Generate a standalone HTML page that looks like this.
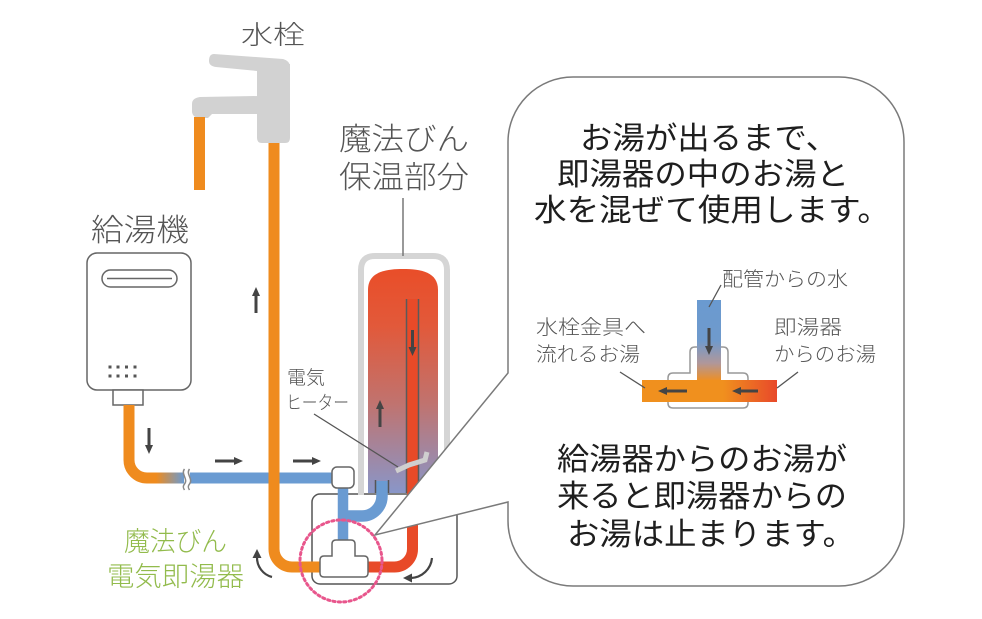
<!DOCTYPE html>
<html><head><meta charset="utf-8"><style>
html,body{margin:0;padding:0;background:#fff;}
svg{display:block;}
text{font-family:"Liberation Sans","Noto Sans CJK JP",sans-serif;font-weight:300;}
text.main{font-weight:400;}
</style></head><body>
<svg width="982" height="619" viewBox="0 0 982 619" xmlns="http://www.w3.org/2000/svg">
<defs>
 <linearGradient id="tank" x1="0" y1="270" x2="0" y2="493" gradientUnits="userSpaceOnUse">
  <stop offset="0" stop-color="#e94e29"/>
  <stop offset="0.25" stop-color="#e2593a"/>
  <stop offset="0.6" stop-color="#c0736f"/>
  <stop offset="1" stop-color="#8996c8"/>
 </linearGradient>
 <linearGradient id="hp" x1="156" y1="0" x2="184" y2="0" gradientUnits="userSpaceOnUse">
  <stop offset="0" stop-color="#ef8b1e"/>
  <stop offset="1" stop-color="#6a9bd2"/>
 </linearGradient>
 <linearGradient id="vb" x1="0" y1="300" x2="0" y2="381" gradientUnits="userSpaceOnUse">
  <stop offset="0" stop-color="#6a9ad0"/>
  <stop offset="0.5" stop-color="#6f9acc"/>
  <stop offset="0.78" stop-color="#b0979a"/>
  <stop offset="1" stop-color="#ef8f22"/>
 </linearGradient>
 <linearGradient id="hb" x1="642" y1="0" x2="777" y2="0" gradientUnits="userSpaceOnUse">
  <stop offset="0" stop-color="#f0901e"/>
  <stop offset="0.6" stop-color="#f0901e"/>
  <stop offset="1" stop-color="#e8492a"/>
 </linearGradient>
</defs>
<rect width="982" height="619" fill="#fff"/>

<!-- faucet -->
<path d="M214,54 L283,59 Q290,61 290,67 L290,74 L257,74 L257,71 L216,67 Q209,66 209,61 Q209,54 214,54 Z" fill="#d2d2d2"/>
<path d="M257,64 L290,64 L290,138 Q290,143 285,143 L262,143 Q257,143 257,138 Z" fill="#d2d2d2"/>
<path d="M258,96 L200,97 Q192,98 192,104 L192,112 Q193,118 200,118 L208,118 L212,114 L258,114 Z" fill="#d2d2d2"/>
<rect x="194" y="117" width="11" height="73" fill="#ef8b1e"/>

<!-- water heater unit -->
<rect x="87" y="253" width="104" height="137" rx="10" fill="#fff" stroke="#666" stroke-width="1.5"/>
<rect x="102" y="270" width="75" height="17" rx="8.5" fill="#fff" stroke="#666" stroke-width="1.5"/>
<line x1="107" y1="278.5" x2="172" y2="278.5" stroke="#666" stroke-width="1.5"/>
<g fill="#555">
 <rect x="108.5" y="365.5" width="3" height="3"/><rect x="116.5" y="365.5" width="3" height="3"/><rect x="125" y="365.5" width="3" height="3"/><rect x="133.5" y="365.5" width="3" height="3"/>
 <rect x="108.5" y="374.5" width="3" height="3"/><rect x="116.5" y="374.5" width="3" height="3"/><rect x="125" y="374.5" width="3" height="3"/><rect x="133.5" y="374.5" width="3" height="3"/>
</g>
<rect x="113" y="390" width="30" height="15" fill="#fff" stroke="#666" stroke-width="1.5"/>

<!-- instant heater box -->
<rect x="312" y="494" width="145" height="90" rx="8" fill="none" stroke="#555" stroke-width="1.5"/>

<!-- tank -->
<path d="M361,495 L361,270 Q361,256 375,256 L433,256 Q447,256 447,270 L447,495" fill="none" stroke="#d5d5d5" stroke-width="6"/>
<path d="M368,493 L368,290 C368,272 385,269 403,269 C421,269 438,272 438,290 L438,493 Z" fill="url(#tank)"/>
<rect x="406.5" y="299" width="12" height="194" fill="#e84a28"/>
<line x1="406.5" y1="299" x2="406.5" y2="493" stroke="#5a5a5a" stroke-width="1.5"/>
<line x1="418.5" y1="299" x2="418.5" y2="493" stroke="#5a5a5a" stroke-width="1.5"/>
<!-- heater element -->
<polyline points="396,471 409,465 425,460 427,452" fill="none" stroke="#cfcfcf" stroke-width="5"/>

<!-- pipes -->
<path d="M129,405 L129,460 A18,18 0 0 0 147,478 L158,478" fill="none" stroke="#ef8b1e" stroke-width="11"/>
<rect x="156" y="472.5" width="28" height="11" fill="url(#hp)"/>
<line x1="190" y1="478" x2="333" y2="478" stroke="#6a9bd2" stroke-width="11"/>
<path d="M184.5,469 C180.5,474 188.5,479 184.5,484 C182,487 184,489 184.5,490" fill="none" stroke="#888" stroke-width="1.5"/>
<path d="M189.5,469 C185.5,474 193.5,479 189.5,484 C187,487 189,489 189.5,490" fill="none" stroke="#888" stroke-width="1.5"/>

<path d="M274,143 L274,549 A18,18 0 0 0 292,567 L322,567" fill="none" stroke="#ef8b1e" stroke-width="11"/>
<path d="M412.5,493 L412.5,549 A18,18 0 0 1 394.5,567 L366,567" fill="none" stroke="#e84a28" stroke-width="11"/>

<line x1="343" y1="487" x2="343" y2="542" stroke="#6a9bd2" stroke-width="10.5"/>
<path d="M343,516 L362,516 A20,20 0 0 0 382,496 L382,481" fill="none" stroke="#6a9bd2" stroke-width="11.5"/>
<line x1="375.5" y1="480" x2="375.5" y2="493" stroke="#555" stroke-width="1.5"/>
<line x1="388.5" y1="480" x2="388.5" y2="493" stroke="#555" stroke-width="1.5"/>

<rect x="332" y="467" width="22" height="21" rx="5" fill="#fff" stroke="#666" stroke-width="1.5"/>
<path d="M320,573 L320,560 Q320,556 324,556 L332,556 L332,544 Q332,540 336,540 L351,540 Q355,540 355,544 L355,556 L364,556 Q368,556 368,560 L368,573 Q368,577 364,577 L324,577 Q320,577 320,573 Z" fill="#fff" stroke="#666" stroke-width="1.5"/>

<!-- arrows -->
<g stroke="#444" stroke-width="3" fill="#444">
 <line x1="149" y1="428" x2="149" y2="446"/><polygon stroke="none" points="145,445 153,445 149,454"/>
 <line x1="215" y1="461" x2="235" y2="461"/><polygon stroke="none" points="234,457 234,465 243,461"/>
 <line x1="293" y1="461" x2="313" y2="461"/><polygon stroke="none" points="312,457 312,465 321,461"/>
 <line x1="256" y1="313" x2="256" y2="295"/><polygon stroke="none" points="252,296 260,296 256,287"/>
 <line x1="380" y1="427" x2="380" y2="408"/><polygon stroke="none" points="376,409 384,409 380,400"/>
 <line x1="412.5" y1="330" x2="412.5" y2="348"/><polygon stroke="none" points="408.5,347 416.5,347 412.5,356"/>
</g>
<path d="M272,577 A20,20 0 0 1 257,557" fill="none" stroke="#444" stroke-width="2.2"/>
<polygon points="252.5,558 261.5,558 257,549" fill="#444"/>
<path d="M432,558 A22,22 0 0 1 411,578" fill="none" stroke="#444" stroke-width="2.2"/>
<polygon points="412,573.5 412,582.5 403,578" fill="#444"/>

<!-- pink dotted circle -->
<circle cx="341" cy="561" r="41" fill="none" stroke="#e8568c" stroke-width="3" stroke-dasharray="2.2 3.2" stroke-linecap="round"/>

<!-- leader lines -->
<line x1="403" y1="198" x2="403" y2="256" stroke="#777" stroke-width="1.5"/>
<line x1="314" y1="414" x2="398" y2="467" stroke="#555" stroke-width="1.3"/>

<!-- speech bubble -->
<path d="M508,373 L508,142 A65,65 0 0 1 573,77 L839,77 A65,65 0 0 1 904,142 L904,521 A65,65 0 0 1 839,586 L573,586 A65,65 0 0 1 508,521 L508,502 L375,535 Z" fill="#fff" stroke="#7a7a7a" stroke-width="1.5" stroke-linejoin="miter"/>

<!-- T diagram in bubble -->
<path d="M668,403 L668,378 Q668,373 673,373 L690,373 L690,352 Q690,347 695,347 L723,347 Q728,347 728,352 L728,373 L743,373 Q748,373 748,378 L748,403 Q748,408 743,408 L673,408 Q668,408 668,403 Z" fill="#fff" stroke="#999" stroke-width="1.5"/>
<rect x="697" y="300" width="24" height="81" fill="url(#vb)"/>
<rect x="642" y="380" width="135" height="22" fill="url(#hb)"/>
<g stroke="#444" stroke-width="3" fill="#444">
 <line x1="709" y1="328" x2="709" y2="347"/><polygon stroke="none" points="705,346 713,346 709,355"/>
 <line x1="687" y1="391" x2="666" y2="391"/><polygon stroke="none" points="667,387 667,395 658,391"/>
 <line x1="758" y1="391" x2="740" y2="391"/><polygon stroke="none" points="741,387 741,395 732,391"/>
</g>
<line x1="721" y1="285" x2="709" y2="307" stroke="#555" stroke-width="1.3"/>
<line x1="620" y1="372" x2="645" y2="388" stroke="#555" stroke-width="1.3"/>
<line x1="798" y1="372" x2="777" y2="388" stroke="#555" stroke-width="1.3"/>

<!-- labels -->
<g fill="#555">
 <text x="241" y="44" font-size="26" textLength="64" lengthAdjust="spacingAndGlyphs">水栓</text>
 <text x="339" y="150" font-size="31" textLength="130" lengthAdjust="spacingAndGlyphs">魔法びん</text>
 <text x="339" y="188" font-size="31" textLength="130" lengthAdjust="spacingAndGlyphs">保温部分</text>
 <text x="91" y="241" font-size="31" textLength="98" lengthAdjust="spacingAndGlyphs">給湯機</text>
 <text x="287" y="384" font-size="19" textLength="38" lengthAdjust="spacingAndGlyphs">電気</text>
 <text x="286" y="409" font-size="19" textLength="63" lengthAdjust="spacingAndGlyphs">ヒーター</text>
 <text x="722" y="286" font-size="20" textLength="126" lengthAdjust="spacingAndGlyphs">配管からの水</text>
 <text x="536" y="334" font-size="20" textLength="110" lengthAdjust="spacingAndGlyphs">水栓金具へ</text>
 <text x="536" y="361" font-size="20" textLength="104" lengthAdjust="spacingAndGlyphs">流れるお湯</text>
 <text x="774" y="334" font-size="20" textLength="68" lengthAdjust="spacingAndGlyphs">即湯器</text>
 <text x="774" y="361" font-size="20" textLength="102" lengthAdjust="spacingAndGlyphs">からのお湯</text>
</g>
<g fill="#92bb4c">
 <text x="124" y="551" font-size="27" textLength="103" lengthAdjust="spacingAndGlyphs">魔法びん</text>
 <text x="107" y="586" font-size="27" textLength="137" lengthAdjust="spacingAndGlyphs">電気即湯器</text>
</g>
<g fill="#1e1e1e" font-size="31">
 <text class="main" x="580" y="149" textLength="258" lengthAdjust="spacingAndGlyphs">お湯が出るまで、</text>
 <text class="main" x="557" y="185" textLength="292" lengthAdjust="spacingAndGlyphs">即湯器の中のお湯と</text>
 <text class="main" x="534" y="221" textLength="356" lengthAdjust="spacingAndGlyphs">水を混ぜて使用します。</text>
 <text class="main" x="557" y="470" textLength="290" lengthAdjust="spacingAndGlyphs">給湯器からのお湯が</text>
 <text class="main" x="557" y="507" textLength="290" lengthAdjust="spacingAndGlyphs">来ると即湯器からの</text>
 <text class="main" x="567" y="545" textLength="288" lengthAdjust="spacingAndGlyphs">お湯は止まります。</text>
</g>
</svg>
</body></html>
